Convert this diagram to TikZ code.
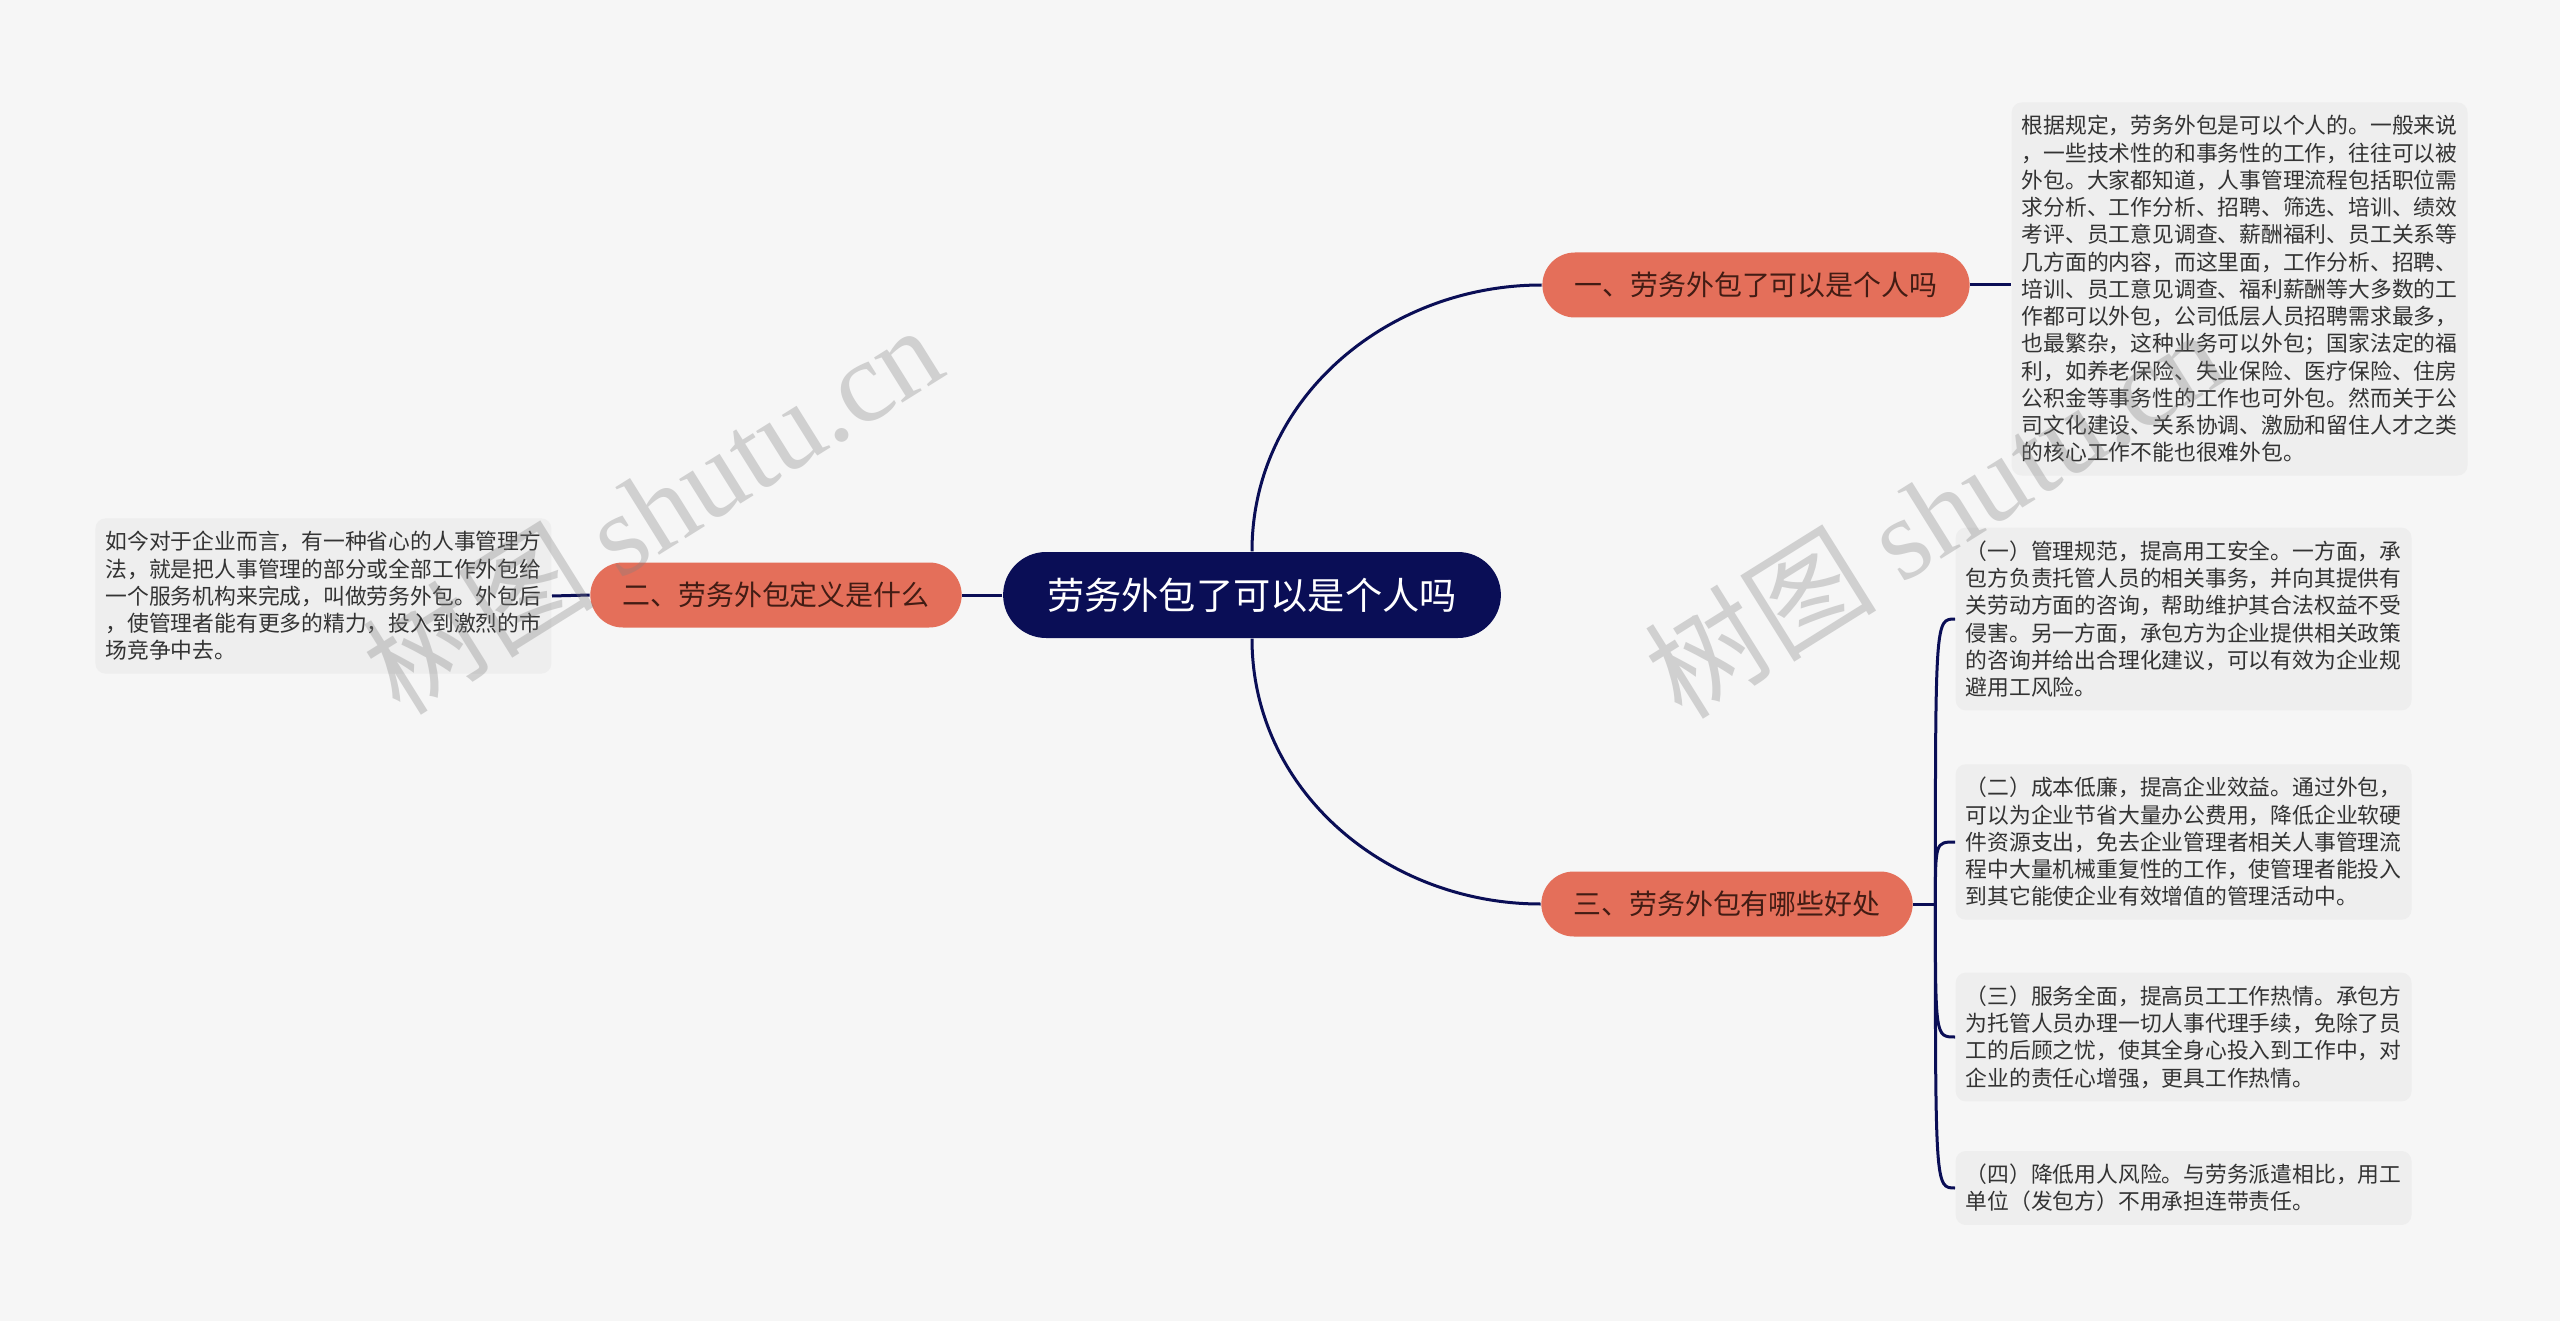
\documentclass[tikz,border=0pt]{standalone}
\usepackage{fontspec}
\setmainfont{Noto Sans CJK SC}
\newfontfamily\wmlatin{Liberation Serif}
\usepackage{xcolor}
\usepackage{tikz}
\usetikzlibrary{positioning,calc}

\definecolor{navy}{RGB}{10,14,86}
\definecolor{salmon}{RGB}{228,111,90}
\definecolor{brownink}{RGB}{66,28,20}
\definecolor{paper}{RGB}{246,246,246}
\definecolor{leafbg}{RGB}{238,238,238}
\definecolor{leafink}{RGB}{51,51,51}

\begin{document}
\begin{tikzpicture}[
    x=0.1mm,
    y=-0.1mm,
    root/.style={fill=navy, text=white, rounded corners=4.3mm, minimum height=8.6mm,
        inner xsep=4.4mm, inner ysep=0pt, font=\fontsize{10.6pt}{13pt}\selectfont},
    branch/.style={fill=salmon, text=brownink, rounded corners=3.25mm, minimum height=6.5mm,
        inner xsep=3.2mm, inner ysep=0pt, font=\fontsize{7.95pt}{9.5pt}\selectfont},
    leaf/.style={fill=leafbg, text=leafink, rounded corners=1mm, align=left, text width=124pt,
        inner xsep=1mm, inner ysep=1.3mm, font=\fontsize{6.2pt}{7.75pt}\selectfont},
    link/.style={draw=navy, line width=0.3mm},
    wmark/.style={text=black!50, opacity=0.32, rotate=32, font=\fontsize{33pt}{38pt}\selectfont}
]
\fill[paper] (0,0) rectangle (2560,1321);

% centre and main branches
\node[root] (root) at (1252,595) {劳务外包了可以是个人吗};
\node[branch] (b1) at (1756,285) {一、劳务外包了可以是个人吗};
\node[branch] (b2) at (776,595) {二、劳务外包定义是什么};
\node[branch] (b3) at (1727,904) {三、劳务外包有哪些好处};

% text leaves
\node[leaf, anchor=west] (l1) at (2011,289) {根据规定，劳务外包是可以个人的。一般来说\\
，一些技术性的和事务性的工作，往往可以被\\
外包。大家都知道，人事管理流程包括职位需\\
求分析、工作分析、招聘、筛选、培训、绩效\\
考评、员工意见调查、薪酬福利、员工关系等\\
几方面的内容，而这里面，工作分析、招聘、\\
培训、员工意见调查、福利薪酬等大多数的工\\
作都可以外包，公司低层人员招聘需求最多，\\
也最繁杂，这种业务可以外包；国家法定的福\\
利，如养老保险、失业保险、医疗保险、住房\\
公积金等事务性的工作也可外包。然而关于公\\
司文化建设、关系协调、激励和留住人才之类\\
的核心工作不能也很难外包。};
\node[leaf, anchor=east] (l2) at (552,596) {如今对于企业而言，有一种省心的人事管理方\\
法，就是把人事管理的部分或全部工作外包给\\
一个服务机构来完成，叫做劳务外包。外包后\\
，使管理者能有更多的精力，投入到激烈的市\\
场竞争中去。};
\node[leaf, anchor=west] (l3a) at (1955,619) {（一）管理规范，提高用工安全。一方面，承\\
包方负责托管人员的相关事务，并向其提供有\\
关劳动方面的咨询，帮助维护其合法权益不受\\
侵害。另一方面，承包方为企业提供相关政策\\
的咨询并给出合理化建议，可以有效为企业规\\
避用工风险。};
\node[leaf, anchor=west] (l3b) at (1955,842) {（二）成本低廉，提高企业效益。通过外包，\\
可以为企业节省大量办公费用，降低企业软硬\\
件资源支出，免去企业管理者相关人事管理流\\
程中大量机械重复性的工作，使管理者能投入\\
到其它能使企业有效增值的管理活动中。};
\node[leaf, anchor=west] (l3c) at (1955,1037) {（三）服务全面，提高员工工作热情。承包方\\
为托管人员办理一切人事代理手续，免除了员\\
工的后顾之忧，使其全身心投入到工作中，对\\
企业的责任心增强，更具工作热情。};
\node[leaf, anchor=west] (l3d) at (1955,1188) {（四）降低用人风险。与劳务派遣相比，用工\\
单位（发包方）不用承担连带责任。};

% connectors
\draw[link] (root.north) to[out=90,in=180] (b1.west);
\draw[link] (root.south) to[out=-90,in=180] (b3.west);
\draw[link] (root.west) -- (b2.east);
\draw[link] (b1.east) -- (b1.east -| l1.west);
\draw[link] (b2.west) -- (l2.east);
\coordinate (j3) at ([xshift=2.2mm]b3.east);
\draw[link] (b3.east) -- (j3);
\foreach \lf in {l3a,l3b,l3c,l3d}{
  \draw[link] (j3) .. controls (j3 |- \lf.west) .. (\lf.west);
}

% watermarks
\node[wmark] (wm1) at (652,508) {树图 {\wmlatin shutu.cn}};
\node[wmark] (wm2) at (1934,512) {树图 {\wmlatin shutu.cn}};
\end{tikzpicture}
\end{document}
